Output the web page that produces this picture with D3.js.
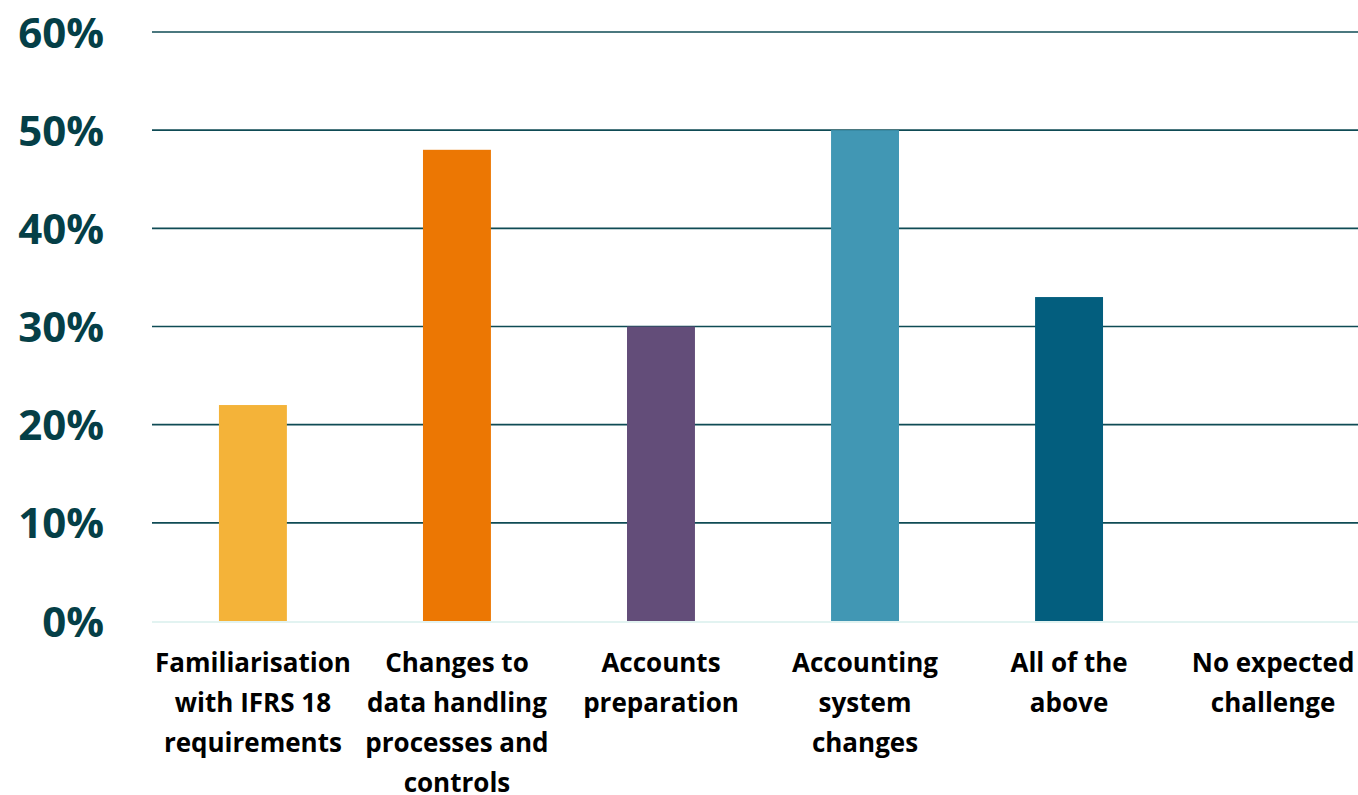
<!DOCTYPE html>
<html><head><meta charset="utf-8">
<script src="https://cdn.jsdelivr.net/npm/d3@7"></script>
<style>body{margin:0;background:#fff}svg{display:block}</style>
</head><body>
<svg id="c" width="1358" height="795"></svg>
<script>
const categories = [
  ["Familiarisation","with IFRS 18","requirements"],
  ["Changes to","data handling","processes and","controls"],
  ["Accounts","preparation"],
  ["Accounting","system","changes"],
  ["All of the","above"],
  ["No expected","challenge"]
];
const values = [22, 48, 30, 50, 33, 0];
const colors = ["#F4B339","#EC7703","#634D79","#4197B4","#035E7E","#035E7E"];
const yTicks = [0,10,20,30,40,50,60];

const svg = d3.select("#c");
const font = "'Open Sans', sans-serif";
const x = d3.scaleBand().domain(d3.range(categories.length)).range([151,1375]).paddingInner(0.667).paddingOuter(0.333);
const y = d3.scaleLinear().domain([0,60]).range([621,32]);

const yAxis = d3.axisLeft(y).tickValues(yTicks).tickSize(0).tickFormat(d=>d+"%");
svg.append("g").selectAll("line").data(yTicks.filter(d=>d>0)).join("line")
  .attr("x1",152).attr("x2",1358).attr("y1",d=>y(d)).attr("y2",d=>y(d))
  .attr("stroke","#0F4B55").attr("stroke-width",1.6);

svg.append("g").selectAll("rect").data(values).join("rect")
  .attr("x",(d,i)=>x(i)).attr("width",x.bandwidth())
  .attr("y",d=>y(d)).attr("height",d=>y(0)-y(d)+1)
  .attr("fill",(d,i)=>colors[i]);

svg.append("line").attr("x1",152).attr("x2",1358).attr("y1",y(0)+1).attr("y2",y(0)+1)
  .attr("stroke","#E2F3F1").attr("stroke-width",2);

const ga = svg.append("g").attr("transform","translate(104,0)").call(yAxis);
ga.select(".domain").remove();
ga.selectAll("text").attr("font-family",font).attr("font-weight","bold")
  .attr("font-size",42).attr("fill","#053F47").attr("x",0).attr("dy","0.36em");

const xl = svg.append("g").selectAll("text").data(categories).join("text")
  .attr("text-anchor","middle").attr("font-family",font).attr("font-weight","bold")
  .attr("font-size",26).attr("fill","#000")
  .attr("transform",(d,i)=>`translate(${x(i)+x.bandwidth()/2},0)`);
xl.selectAll("tspan").data(d=>d).join("tspan")
  .attr("x",0).attr("y",(d,j)=>672+j*40).text(d=>d);
</script>
</body></html>
